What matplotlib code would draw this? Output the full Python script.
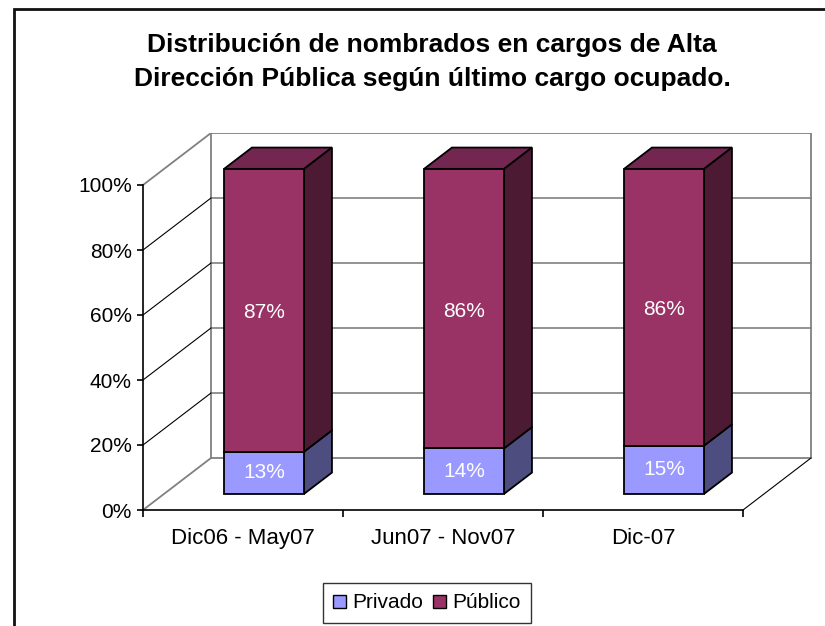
import matplotlib
matplotlib.use('Agg')
import matplotlib.pyplot as plt
from matplotlib.patches import Polygon, Patch, Rectangle

plt.rcParams['font.family'] = ['Liberation Sans', 'DejaVu Sans']

# datos del grafico
categorias = ['Dic06 - May07', 'Jun07 - Nov07', 'Dic-07']
privado = [13, 14, 15]
publico = [87, 86, 86]
etiquetas_y = ['0%', '20%', '40%', '60%', '80%', '100%']

titulo_1 = 'Distribución de nombrados en cargos de Alta'
titulo_2 = 'Dirección Pública según último cargo ocupado.'

# colores estilo excel (frente, lado, tapa)
col_priv = ('#9999ff', '#4d4d80', '#7a7acc')
col_pub = ('#993366', '#4d1a33', '#732650')

# proyeccion oblicua: profundidad z en [0,1]
DX = 0.34
DY = 16.0
Z0, Z1 = 0.31, 0.72
ANCHO = 0.4


def proy(x, y, z):
	return (x + z * DX, y + z * DY)


def caja(ax, x0, x1, y0, y1, cols):
	frente = [proy(x0, y0, Z0), proy(x1, y0, Z0), proy(x1, y1, Z0), proy(x0, y1, Z0)]
	lado = [proy(x1, y0, Z0), proy(x1, y0, Z1), proy(x1, y1, Z1), proy(x1, y1, Z0)]
	tapa = [proy(x0, y1, Z0), proy(x1, y1, Z0), proy(x1, y1, Z1), proy(x0, y1, Z1)]
	for pts, c in ((tapa, cols[2]), (lado, cols[1]), (frente, cols[0])):
		ax.add_patch(Polygon(pts, closed=True, fc=c, ec='black', lw=1.3, zorder=5, joinstyle='miter'))


fig = plt.figure(figsize=(8.25, 6.26), dpi=100)
W, H = 825.0, 626.0
ax = fig.add_axes([143 / W, (H - 510) / H, 680 / W, 377 / H])
ax.set_xlim(0, 3.4)
ax.set_ylim(0, 116)
ax.patch.set_visible(False)

n = len(categorias)
gris = '#808080'

# pared del fondo
pared = [proy(0, 0, 1), proy(n, 0, 1), proy(n, 100, 1), proy(0, 100, 1)]
ax.add_patch(Polygon(pared, closed=True, fill=False, ec=gris, lw=1.3, zorder=1))
for v in range(20, 100, 20):
	a, b = proy(0, v, 1), proy(n, v, 1)
	ax.plot([a[0], b[0]], [a[1], b[1]], color=gris, lw=1.2, zorder=1)

# pared izquierda (diagonales)
for v in range(0, 101, 20):
	a, b = proy(0, v, 0), proy(0, v, 1)
	c = gris if v in (0, 100) else 'black'
	lw = 1.3 if v in (0, 100) else 0.8
	ax.plot([a[0], b[0]], [a[1], b[1]], color=c, lw=lw, zorder=1)

# piso: borde derecho
a, b = proy(n, 0, 0), proy(n, 0, 1)
ax.plot([a[0], b[0]], [a[1], b[1]], color='black', lw=0.8, zorder=1)

# barras apiladas al 100%
for i in range(n):
	tot = privado[i] + publico[i]
	p1 = privado[i] * 100.0 / tot
	x0 = i + 0.5 - ANCHO / 2
	x1 = i + 0.5 + ANCHO / 2
	caja(ax, x0, x1, 0, p1, col_priv)
	caja(ax, x0, x1, p1, 100, col_pub)
	tx, ty = proy(i + 0.5, p1 / 2, Z0)
	ax.text(tx, ty, '%d%%' % privado[i], color='white', fontsize=15, ha='center', va='center', zorder=6)
	tx, ty = proy(i + 0.5, (p1 + 100) / 2, Z0)
	ax.text(tx, ty - 0.8, '%d%%' % publico[i], color='white', fontsize=15, ha='center', va='center', zorder=6)

# ejes
for s in ('top', 'right'):
	ax.spines[s].set_visible(False)
ax.spines['left'].set_bounds(0, 100)
ax.spines['bottom'].set_bounds(0, n)
ax.spines['left'].set_linewidth(1.2)
ax.spines['bottom'].set_linewidth(1.2)
ax.set_yticks(range(0, 101, 20))
ax.set_yticklabels(etiquetas_y, fontsize=15)
ax.set_xticks(range(n + 1))
ax.set_xticklabels([])
ax.set_xticks([i + 0.5 for i in range(n)], minor=True)
ax.set_xticklabels(categorias, minor=True, fontsize=16)
ax.tick_params(axis='y', direction='out', length=4, width=1.2, pad=4)
ax.tick_params(axis='x', which='major', direction='out', length=5, width=1.2)
ax.tick_params(axis='x', which='minor', length=0, pad=13)

# titulo
fig.text(432 / W, 1 - 45 / H, titulo_1, ha='center', va='center', fontsize=19, fontweight='bold')
fig.text(432 / W, 1 - 79 / H, titulo_2, ha='center', va='center', fontsize=19, fontweight='bold')

# leyenda
handles = [Patch(fc=col_priv[0], ec='black', label='Privado'),
		   Patch(fc=col_pub[0], ec='black', label='Público')]
leg = fig.legend(handles=handles, loc='center', bbox_to_anchor=(427 / W, 1 - 603 / H), ncol=2,
				 fontsize=15, frameon=True, fancybox=False, edgecolor='black',
				 handlelength=0.6, handleheight=0.6, handletextpad=0.3, columnspacing=0.5,
				 borderpad=0.5, borderaxespad=0)
leg.get_frame().set_linewidth(1.0)

# marco del grafico
fig.patches.append(Rectangle((14 / W, -0.2), 1.2, (H - 9) / H + 0.2, transform=fig.transFigure,
							 fill=False, ec='#111111', lw=2.0, zorder=10))

fig.savefig('out.png', dpi=100)
